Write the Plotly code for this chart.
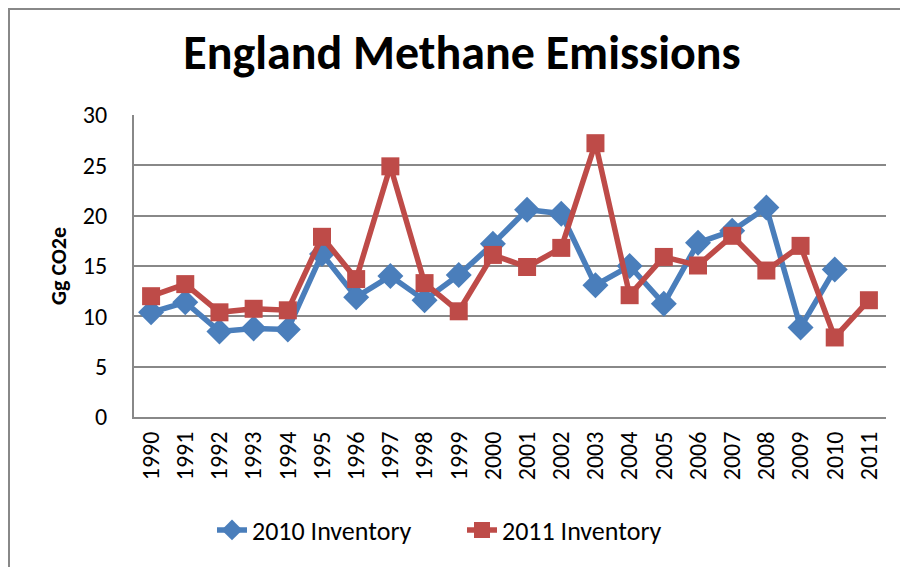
import plotly.graph_objects as go

# Data
years = [str(y) for y in range(1990, 2012)]
inv_2010 = [10.4, 11.4, 8.5, 8.8, 8.7, 16.2, 11.9, 14.0, 11.6, 14.1, 17.2,
            20.6, 20.2, 13.1, 15.0, 11.25, 17.3, 18.5, 20.8, 8.9, 14.65, None]
inv_2011 = [12.0, 13.2, 10.4, 10.75, 10.6, 17.9, 13.7, 24.9, 13.3, 10.5, 16.1,
            14.9, 16.8, 27.2, 12.1, 15.9, 15.05, 18.0, 14.55, 17.0, 7.9, 11.6]
y_ticks = [0, 5, 10, 15, 20, 25, 30]

FONT = "Carlito, 'Liberation Sans Narrow', 'Liberation Sans', Arial, sans-serif"
BLUE = "#4A7EBB"
RED = "#BE4B48"

fig = go.Figure()
fig.add_trace(go.Scatter(
    x=years, y=inv_2010, name="2010 Inventory", mode="lines+markers",
    line=dict(color=BLUE, width=5.5),
    marker=dict(symbol="diamond", size=20, color=BLUE),
))
fig.add_trace(go.Scatter(
    x=years, y=inv_2011, name="2011 Inventory", mode="lines+markers",
    line=dict(color=RED, width=5.5),
    marker=dict(symbol="square", size=18, color=RED),
))

# page is drawn with an 8px body margin, so the figure is shifted by 8px
OFF = 8
W, H = 908 - OFF, 567 - OFF
L, R, T, B = 134 - OFF, 22, 115 - OFF, 150
pw = W - L - R
ph = H - T - B
bottom = H - B  # figure pixel row of the x axis


def py(p):
    """page pixel row -> paper y"""
    return (bottom - (p - OFF)) / ph


def px_(p):
    """page pixel column -> paper x"""
    return (p - OFF - L) / pw


fig.update_layout(
    width=W, height=H,
    margin=dict(l=L, r=R, t=T, b=B, autoexpand=False),
    paper_bgcolor="white", plot_bgcolor="white",
    font=dict(family=FONT, color="black"),
    title=dict(text="<b>England Methane Emissions</b>", x=(462 - OFF) / W,
               xanchor="center", y=1 - 44 / H, yanchor="middle",
               font=dict(size=48, family=FONT)),
    showlegend=True,
    legend=dict(orientation="h", x=px_(462), xanchor="center", y=py(530),
                yanchor="middle", font=dict(size=26, family=FONT),
                entrywidth=205, bgcolor="rgba(0,0,0,0)"),
    shapes=[dict(type="rect", xref="paper", yref="paper",
                 x0=px_(9), x1=px_(930), y0=py(590), y1=py(9),
                 line=dict(color="#888888", width=2), fillcolor="rgba(0,0,0,0)",
                 layer="below")],
)
fig.update_xaxes(
    type="category", range=[-0.5, len(years) - 0.5], tickangle=-90,
    tickfont=dict(size=24, family=FONT),
    showgrid=False, showline=True, linecolor="#888888", linewidth=2,
    ticks="", zeroline=False, automargin=False, ticklabelstandoff=3,
)
fig.update_yaxes(
    range=[0, 30], tickvals=y_ticks, tickfont=dict(size=24, family=FONT),
    showgrid=True, gridcolor="#888888", gridwidth=2,
    showline=True, linecolor="#888888", linewidth=2, ticks="",
    zeroline=False, automargin=False, ticklabelstandoff=20,
    title=dict(text="<b>Gg CO2e</b>", font=dict(size=22, family=FONT), standoff=10),
)

fig.write_html("out.html")
